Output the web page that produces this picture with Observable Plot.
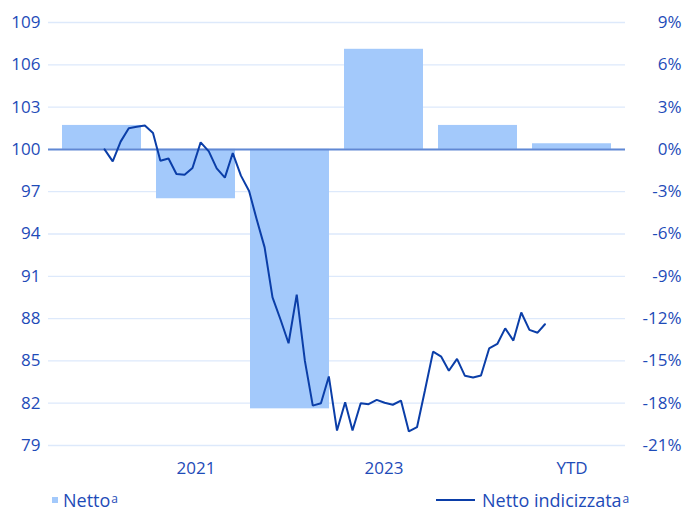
<!DOCTYPE html>
<html>
<head>
<meta charset="utf-8">
<script src="https://cdn.jsdelivr.net/npm/d3@7"></script>
<script src="https://cdn.jsdelivr.net/npm/@observablehq/plot@0.6"></script>
<style>
  html, body { margin: 0; padding: 0; background: #fff; }
  #wrap { position: relative; width: 684px; height: 511px; font-family: "Open Sans", sans-serif; }
  #wrap svg { position: absolute; left: 0; top: 0; }
  #legend { position: absolute; left: 0; top: 489px; width: 684px; height: 22px; color: #1e4bb8; font-size: 18px; line-height: 22px; }
  #legend .item { position: absolute; top: 0; white-space: nowrap; }
  #legend .sup { font-size: 12px; position: relative; top: -4px; margin-left: 1px; }
  #legend .sw { display: inline-block; vertical-align: middle; position: relative; top: -2px; }
</style>
</head>
<body>
<div id="wrap"><div id="legend"></div></div>
<script>
// ---- data ----
const categories = ["2020", "2021", "2022", "2023", "2024", "YTD"];
const nettoPct = [1.7, -3.5, -18.4, 7.1, 1.7, 0.4];           // bars, % (right axis)
const xTickLabels = ["2021", "2023", "YTD"];
const yTicks = [79, 82, 85, 88, 91, 94, 97, 100, 103, 106, 109];
// indexed line, month-end values Jul 2020 .. Feb 2025
const lineStart = "2020-08-01";
const indexValues = [
  100.0, 99.15, 100.55, 101.5, 101.6, 101.7, 101.16, 99.2, 99.36, 98.26,
  98.2, 98.68, 100.5, 99.86, 98.65, 98.0, 99.74, 98.14, 97.05, 95.1,
  93.05, 89.5, 87.9, 86.25, 89.7, 85.0, 81.83, 82.0, 83.9, 80.06,
  82.07, 80.06, 82.0, 81.93, 82.24, 82.03, 81.89, 82.19, 80.0, 80.3,
  82.9, 85.66, 85.3, 84.3, 85.14, 83.94, 83.82, 83.96, 85.88, 86.2,
  87.31, 86.44, 88.43, 87.2, 87.0, 87.6
];

// ---- styles ----
const textColor = "#1e4bb8";
const barColor = "#a3c9fb";
const lineColor = "#0b3ea8";
const gridColor = "#dde9fb";
const zeroColor = "#6088d4";

const W = 684, H = 487;
const margins = { marginTop: 22, marginBottom: 42, marginLeft: 48, marginRight: 59 };
const base = 100;

const bars = categories.map((c, i) => ({ cat: c, pct: nettoPct[i] }));
const t0 = new Date(lineStart);
const line = indexValues.map((v, i) => ({ date: d3.utcMonth.offset(t0, i), value: v }));

const plotA = Plot.plot({
  width: W, height: H, ...margins,
  style: { fontFamily: "Open Sans, sans-serif", fontSize: "17px", color: textColor, background: "transparent", overflow: "visible" },
  x: { type: "band", domain: categories, paddingInner: 0.16, paddingOuter: 0.14 },
  y: { domain: [79, 109] },
  marks: [
    Plot.ruleY(yTicks, { stroke: gridColor, strokeWidth: 1.3 }),
    Plot.barY(bars, { x: "cat", y1: () => base, y2: d => base + d.pct, fill: barColor }),
    Plot.ruleY([base], { stroke: zeroColor, strokeWidth: 2 }),
    Plot.axisY({ ticks: yTicks, anchor: "left", tickSize: 0, tickPadding: 8, label: null, fill: textColor, fontSize: 17 }),
    Plot.axisY({ ticks: yTicks, anchor: "right", tickSize: 0, tickPadding: 0, dx: 56, textAnchor: "end",
      tickFormat: d => `${d - base}%`, label: null, fill: textColor, fontSize: 17 }),
    Plot.axisX({ ticks: xTickLabels, tickSize: 0, tickPadding: 16, label: null, fill: textColor, fontSize: 17 })
  ]
});

const plotB = Plot.plot({
  width: W, height: H, ...margins,
  style: { background: "transparent", overflow: "visible" },
  x: { type: "utc", domain: [new Date("2020-01-01"), new Date("2026-01-01")], axis: null },
  y: { domain: [79, 109], axis: null },
  marks: [
    Plot.line(line, { x: "date", y: "value", stroke: lineColor, strokeWidth: 2, strokeLinejoin: "miter" })
  ]
});

const wrap = document.getElementById("wrap");
wrap.insertBefore(plotA, wrap.firstChild);
wrap.insertBefore(plotB, plotA.nextSibling);

const legend = document.getElementById("legend");
legend.innerHTML = `
  <div class="item" style="left:52px"><span class="sw" style="width:6px;height:6px;background:${barColor};margin-right:5px"></span>Netto<span class="sup">a</span></div>
  <div class="item" style="left:436px"><span class="sw" style="width:39px;height:2px;background:${lineColor};margin-right:7px"></span>Netto indicizzata<span class="sup">a</span></div>
`;
</script>
</body>
</html>
